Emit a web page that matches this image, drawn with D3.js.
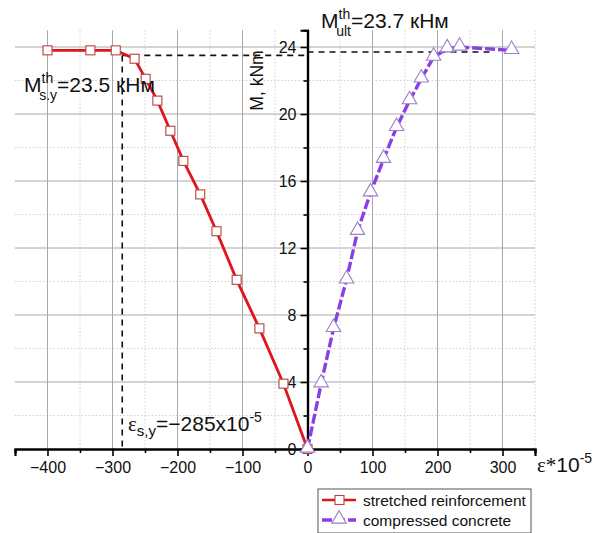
<!DOCTYPE html>
<html>
<head>
<meta charset="utf-8">
<script src="https://cdn.jsdelivr.net/npm/d3@7"></script>
<style>
  body { margin: 0; background: #fff; }
  text { font-family: Arial, "Liberation Sans", sans-serif; }
</style>
</head>
<body>
<svg width="603" height="533"></svg>
<script>
// data (strain x10^-5, moment kNm)
const steelStrain  = [-400, -334, -295, -266, -249, -231, -211, -191, -165, -140, -109, -74, -37, 0];
const steelMoment  = [23.8, 23.8, 23.8, 23.3, 22.1, 20.8, 19.0, 17.2, 15.2, 13.0, 10.1, 7.2, 3.9, 0];
const concStrain   = [0, 21, 40, 60, 77, 97, 117, 137, 157, 175, 194, 215, 234, 314];
const concMoment   = [0, 3.9, 7.2, 10.1, 13.0, 15.3, 17.3, 19.2, 20.8, 22.1, 23.4, 23.9, 24.0, 23.8];
const xTicks = [-400, -300, -200, -100, 0, 100, 200, 300];
const yTicks = [0, 4, 8, 12, 16, 20, 24];
const seriesNames = ['stretched reinforcement', 'compressed concrete'];
const epsYield = -285, mYield = 23.5, mUlt = 23.7;

const svg = d3.select('svg');

const x = d3.scaleLinear().domain([-450, 350]).range([15, 535]);
const y = d3.scaleLinear().domain([0, 25]).range([449, 30.25]);

const steel = steelStrain.map((d, i) => ({x: d, y: steelMoment[i]}));
const conc = concStrain.map((d, i) => ({x: d, y: concMoment[i]}));

//////////////// grid ////////////////
const grid = svg.append('g');
const xMinor = d3.range(-350, 351, 100);
const yMinor = d3.range(2, 25, 4);
grid.selectAll('.vmin').data(xMinor).enter().append('line')
    .attr('x1', d => x(d)).attr('x2', d => x(d))
    .attr('y1', y(25)).attr('y2', y(0))
    .attr('stroke', '#d0d0d0').attr('stroke-dasharray', '1.5,2');
grid.selectAll('.hmin').data(yMinor).enter().append('line')
    .attr('x1', x(-450)).attr('x2', x(350))
    .attr('y1', d => y(d)).attr('y2', d => y(d))
    .attr('stroke', '#d0d0d0').attr('stroke-dasharray', '1.5,2');
grid.selectAll('.vmaj').data(xTicks.filter(d => d !== 0)).enter().append('line')
    .attr('x1', d => x(d)).attr('x2', d => x(d))
    .attr('y1', y(25)).attr('y2', y(0))
    .attr('stroke', '#a8a8a8').attr('stroke-width', 1);
grid.selectAll('.hmaj').data(yTicks.filter(d => d !== 0)).enter().append('line')
    .attr('x1', x(-450)).attr('x2', x(350))
    .attr('y1', d => y(d)).attr('y2', d => y(d))
    .attr('stroke', '#a8a8a8').attr('stroke-width', 1);

//////////////// dashed guide lines ////////////////
const guide = svg.append('g').attr('stroke', '#111').attr('stroke-width', 1.6)
    .attr('stroke-dasharray', '6,5').attr('fill', 'none');
guide.append('line').attr('x1', x(epsYield)).attr('x2', x(epsYield))
    .attr('y1', y(mYield)).attr('y2', y(0));
guide.append('line').attr('x1', x(epsYield)).attr('x2', x(0))
    .attr('y1', y(mYield)).attr('y2', y(mYield));
guide.append('line').attr('x1', x(0)).attr('x2', x(280))
    .attr('y1', y(mUlt)).attr('y2', y(mUlt));

//////////////// axes ////////////////
const xAxis = svg.append('g').attr('transform', `translate(0,${y(0)})`)
    .call(d3.axisBottom(x).tickValues(xTicks).tickSize(7).tickPadding(6).tickFormat(d3.format('d')));
const xAxisMinor = svg.append('g').attr('transform', `translate(0,${y(0)})`)
    .call(d3.axisBottom(x).tickValues(d3.range(-450, 351, 100)).tickSize(4).tickFormat(''));
const yAxis = svg.append('g').attr('transform', `translate(${x(0)},0)`)
    .call(d3.axisLeft(y).tickValues(yTicks).tickSize(7).tickPadding(4));
const yAxisMinor = svg.append('g').attr('transform', `translate(${x(0)},0)`)
    .call(d3.axisLeft(y).tickValues(yMinor).tickSize(4).tickFormat(''));

[xAxis, xAxisMinor, yAxis, yAxisMinor].forEach(g => {
    g.select('.domain').attr('stroke', '#000').attr('stroke-width', 2.2);
    g.selectAll('.tick line').attr('stroke', '#000').attr('stroke-width', 1.6);
    g.selectAll('text').attr('font-size', 16).attr('fill', '#111')
        .attr('font-family', 'Arial, "Liberation Sans", sans-serif');
});
yAxis.selectAll('.tick text').attr('dy', '0.36em');

svg.append('text').attr('transform', `translate(${x(0) - 45},${y(22)}) rotate(-90)`)
    .attr('text-anchor', 'middle').attr('font-size', 17.5).attr('fill', '#111')
    .text('M, kNm');

//////////////// series ////////////////
const line = d3.line().x(d => x(d.x)).y(d => y(d.y));

svg.append('path').datum(steel).attr('d', line)
    .attr('fill', 'none').attr('stroke', '#e0141b').attr('stroke-width', 2.8);
svg.append('path').datum(conc).attr('d', line)
    .attr('fill', 'none').attr('stroke', '#8a3fe6').attr('stroke-width', 3.4)
    .attr('stroke-dasharray', '10,3');

svg.selectAll('.sq').data(steel).enter().append('rect')
    .attr('x', d => x(d.x) - 4.5).attr('y', d => y(d.y) - 4.5)
    .attr('width', 9).attr('height', 9)
    .attr('fill', '#fff').attr('stroke', '#b8433f').attr('stroke-width', 1.1);

const tri = d3.symbol().type(d3.symbolTriangle).size(90);
svg.selectAll('.tri').data(conc).enter().append('path')
    .attr('d', tri)
    .attr('transform', d => `translate(${x(d.x)},${y(d.y) - 1})`)
    .attr('fill', '#fff').attr('stroke', '#9a80c8').attr('stroke-width', 1.1);

//////////////// annotations ////////////////
const t1 = svg.append('text').attr('x', 321).attr('y', 28).attr('font-size', 21).attr('fill', '#111');
t1.append('tspan').text('M');
t1.append('tspan').attr('font-size', 14).attr('dy', -9).text('th');
t1.append('tspan').attr('font-size', 14).attr('dx', -14).attr('dy', 17).text('ult');
t1.append('tspan').attr('dy', -8).text('=23.7 кНм');

const t2 = svg.append('text').attr('x', 24).attr('y', 92).attr('font-size', 21).attr('fill', '#111');
t2.append('tspan').text('M');
t2.append('tspan').attr('font-size', 14).attr('dy', -9).text('th');
t2.append('tspan').attr('font-size', 14).attr('dx', -14).attr('dy', 17).text('s.y');
t2.append('tspan').attr('dy', -8).text('=23.5 кНм');

const t3 = svg.append('text').attr('x', 128).attr('y', 431).attr('font-size', 21).attr('fill', '#111');
t3.append('tspan').attr('font-family', '"Liberation Serif", "DejaVu Serif", serif').text('ε');
t3.append('tspan').attr('font-size', 15).attr('dy', 5).text('s,y');
t3.append('tspan').attr('dy', -5).text('=−285x10');
t3.append('tspan').attr('font-size', 14).attr('dy', -9).text('-5');

const t4 = svg.append('text').attr('x', 537).attr('y', 472).attr('font-size', 21).attr('fill', '#111');
t4.append('tspan').attr('font-family', '"Liberation Serif", "DejaVu Serif", serif').text('ε*');
t4.append('tspan').text('10');
t4.append('tspan').attr('font-size', 14).attr('dy', -9).text('-5');

//////////////// legend ////////////////
const lg = svg.append('g').attr('transform', 'translate(318,489)');
lg.append('rect').attr('width', 213).attr('height', 44)
    .attr('fill', '#fff').attr('stroke', '#555').attr('stroke-width', 1);
const rows = lg.selectAll('.row').data(seriesNames).enter().append('g')
    .attr('transform', (d, i) => `translate(0,${11 + i * 20})`);
rows.append('line').attr('x1', 4).attr('x2', 38).attr('y1', 0).attr('y2', 0)
    .attr('stroke', (d, i) => i ? '#8a3fe6' : '#e0141b')
    .attr('stroke-width', (d, i) => i ? 3.4 : 2.6)
    .attr('stroke-dasharray', (d, i) => i ? '10,3' : null);
rows.filter((d, i) => i === 0).append('rect').attr('x', 17).attr('y', -4.5)
    .attr('width', 9).attr('height', 9).attr('fill', '#fff')
    .attr('stroke', '#b8433f').attr('stroke-width', 1.1);
rows.filter((d, i) => i === 1).append('path').attr('d', tri)
    .attr('transform', 'translate(21,-1)')
    .attr('fill', '#fff').attr('stroke', '#9a80c8').attr('stroke-width', 1.1);
rows.append('text').attr('x', 45).attr('y', 5.5).attr('font-size', 15.5).attr('fill', '#111')
    .text(d => d);
</script>
</body>
</html>
